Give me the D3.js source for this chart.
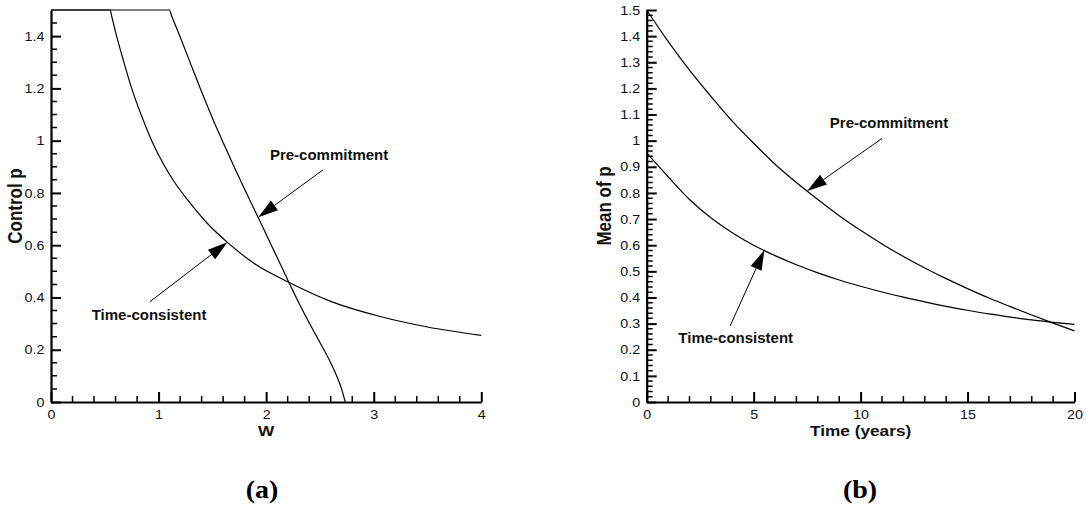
<!DOCTYPE html>
<html><head><meta charset="utf-8">
<script src="https://cdn.jsdelivr.net/npm/d3@7"></script>
<style>body{margin:0;background:#fff}svg{display:block}</style>
</head><body><svg id="c" width="1086" height="506"></svg>
<script>
// ---------- Panel (a): control p vs wealth W ----------
const aW_time = [0, 0.55, 0.565, 0.61, 0.68, 0.75, 0.84, 0.936, 1.05, 1.15, 1.27, 1.45, 1.648, 1.9, 2.205, 2.6, 3.06, 3.5, 4.0];
const aP_time = [1.5, 1.5, 1.475, 1.40, 1.297, 1.20, 1.097, 1.0, 0.907, 0.84, 0.773, 0.685, 0.608, 0.527, 0.459, 0.385, 0.327, 0.287, 0.255];
const aW_pre = [0, 1.1, 1.12, 1.2, 1.3, 1.4, 1.5, 1.6, 1.7, 1.8, 1.9, 2.0, 2.1, 2.2, 2.3, 2.4, 2.5, 2.6, 2.65, 2.7, 2.735];
const aP_pre = [1.5, 1.5, 1.479, 1.398, 1.292, 1.187, 1.087, 0.993, 0.902, 0.814, 0.728, 0.642, 0.555, 0.468, 0.383, 0.303, 0.228, 0.15, 0.105, 0.052, 0];
const aXTicks = [0, 1, 2, 3, 4];
const aXTickLabels = ["0", "1", "2", "3", "4"];
const aXMinorTicks = [0.2, 0.4, 0.6, 0.8, 1.2, 1.4, 1.6, 1.8, 2.2, 2.4, 2.6, 2.8, 3.2, 3.4, 3.6, 3.8];
const aYTicks = [0, 0.2, 0.4, 0.6, 0.8, 1.0, 1.2, 1.4];
const aYTickLabels = ["0", "0.2", "0.4", "0.6", "0.8", "1", "1.2", "1.4"];
const aYMinorTicks = [0.05, 0.1, 0.15, 0.25, 0.3, 0.35, 0.45, 0.5, 0.55, 0.65, 0.7, 0.75, 0.85, 0.9, 0.95,
  1.05, 1.1, 1.15, 1.25, 1.3, 1.35, 1.45];

// ---------- Panel (b): mean of p vs time ----------
const bYears = [0, 1, 2, 3, 4, 5, 6, 7, 8, 9, 10, 11, 12, 13, 14, 15, 16, 17, 18, 19, 20];
const bP_pre = [1.5, 1.38, 1.27, 1.17, 1.075, 0.99, 0.91, 0.84, 0.775, 0.713, 0.657, 0.605, 0.557, 0.513, 0.472, 0.434, 0.398, 0.365, 0.333, 0.302, 0.272];
const bP_time = [0.953, 0.862, 0.775, 0.705, 0.648, 0.60, 0.56, 0.525, 0.494, 0.467, 0.443, 0.421, 0.401, 0.383, 0.366, 0.351, 0.337, 0.325, 0.314, 0.305, 0.297];
const bXTicks = [0, 5, 10, 15, 20];
const bXTickLabels = ["0", "5", "10", "15", "20"];
const bXMinorTicks = [1, 2, 3, 4, 6, 7, 8, 9, 11, 12, 13, 14, 16, 17, 18, 19];
const bYTicks = [0, 0.1, 0.2, 0.3, 0.4, 0.5, 0.6, 0.7, 0.8, 0.9, 1.0, 1.1, 1.2, 1.3, 1.4, 1.5];
const bYTickLabels = ["0", "0.1", "0.2", "0.3", "0.4", "0.5", "0.6", "0.7", "0.8", "0.9", "1", "1.1", "1.2", "1.3", "1.4", "1.5"];
const bYMinorTicks = [];
bYTicks.slice(0, -1).forEach(t => [0.02, 0.04, 0.06, 0.08].forEach(o => bYMinorTicks.push(+(t + o).toFixed(2))));

const seriesNames = ["Pre-commitment", "Time-consistent"];

const svg = d3.select("#c");
const SANS = "'Liberation Sans', Arial, Helvetica, sans-serif";

function drawPanel(cfg) {
  const x = d3.scaleLinear().domain(cfg.xDomain).range(cfg.xRange);
  const y = d3.scaleLinear().domain(cfg.yDomain).range(cfg.yRange);
  const g = svg.append("g");
  const x0 = cfg.xRange[0], y0 = cfg.yRange[0];

  // minor ticks (inward) as one path each
  const xm = cfg.xMinor.map(v => `M${x(v)},${y0}V${y0 - 6}`).join("");
  const ym = cfg.yMinor.map(v => `M${x0},${y(v)}H${x0 + 6}`).join("");
  g.append("path").attr("d", xm + ym).attr("fill", "none")
    .attr("stroke", "#000").attr("stroke-width", 1.5);

  // major axes
  const xa = g.append("g").attr("transform", `translate(0,${y0})`)
    .call(d3.axisBottom(x).tickValues(cfg.xTicks).tickSize(-10).tickSizeOuter(0).tickPadding(5)
      .tickFormat((d, i) => cfg.xTickLabels[i]));
  const ya = g.append("g").attr("transform", `translate(${x0},0)`)
    .call(d3.axisLeft(y).tickValues(cfg.yTicks).tickSize(-10).tickSizeOuter(0).tickPadding(6)
      .tickFormat((d, i) => cfg.yTickLabels[i]));
  [xa, ya].forEach(a => {
    a.select(".domain").attr("stroke", "#000").attr("stroke-width", 2.2);
    a.selectAll(".tick line").attr("stroke", "#000").attr("stroke-width", 2);
    a.selectAll(".tick text").attr("font-family", SANS).attr("font-size", 13).attr("fill", "#111")
      .attr("transform", "scale(1.1,1)");
  });
  xa.selectAll(".tick text").attr("dy", "0.9em");

  // curves
  const line = d3.line().x(d => x(d[0])).y(d => y(d[1])).curve(d3.curveMonotoneX);
  cfg.series.forEach(s => {
    g.append("path").datum(d3.zip(s.xs, s.ys)).attr("d", line)
      .attr("fill", "none").attr("stroke", "#000").attr("stroke-width", 1.2);
  });

  // annotations
  cfg.notes.forEach(n => {
    const sx = x(n.from[0]), sy = y(n.from[1]);
    const tx = x(n.tip[0]), ty = y(n.tip[1]);
    const dx = tx - sx, dy = ty - sy, L = Math.hypot(dx, dy);
    const ux = dx / L, uy = dy / L;
    const hl = 20, hw = 6;
    const bx = tx - ux * hl, by = ty - uy * hl;
    g.append("line").attr("x1", sx).attr("y1", sy).attr("x2", bx).attr("y2", by)
      .attr("stroke", "#000").attr("stroke-width", 1);
    g.append("path")
      .attr("d", `M${tx},${ty}L${bx - uy * hw},${by + ux * hw}L${bx + uy * hw},${by - ux * hw}Z`)
      .attr("fill", "#000");
    g.append("text").attr("x", x(n.text[0])).attr("y", y(n.text[1]))
      .attr("font-family", SANS).attr("font-weight", "bold").attr("font-size", 15)
      .attr("fill", "#111").text(n.label);
  });

  // axis titles
  const xt = d3.mean(cfg.xRange);
  g.append("text").attr("transform", `translate(${xt},${cfg.xTitleY}) scale(1.15,1)`)
    .attr("text-anchor", "middle").attr("font-family", SANS).attr("font-weight", "bold")
    .attr("font-size", 15).attr("fill", "#111").text(cfg.xTitle);
  g.append("text").attr("transform", `translate(${cfg.yTitleX},${cfg.yTitleCY}) scale(1.15,1) rotate(-90)`)
    .attr("text-anchor", "middle").attr("font-family", SANS).attr("font-weight", "bold")
    .attr("font-size", 17).attr("fill", "#111").text(cfg.yTitle);

  // panel label
  g.append("text").attr("transform", `translate(${cfg.labelX},498) scale(1.12,1)`)
    .attr("text-anchor", "middle").attr("font-family", "'Liberation Serif', 'Times New Roman', serif")
    .attr("font-weight", "bold").attr("font-size", 25).attr("fill", "#000").text(cfg.panelLabel);
}

drawPanel({
  xDomain: [0, 4], yDomain: [0, 1.5], xRange: [51, 481.3], yRange: [402, 10],
  xTicks: aXTicks, xTickLabels: aXTickLabels, yTicks: aYTicks, yTickLabels: aYTickLabels,
  xMinor: aXMinorTicks, yMinor: aYMinorTicks,
  series: [{ xs: aW_pre, ys: aP_pre }, { xs: aW_time, ys: aP_time }],
  notes: [
    { label: seriesNames[0], text: [2.035, 0.926], from: [2.528, 0.888], tip: [1.927, 0.707] },
    { label: seriesNames[1], text: [0.378, 0.314], from: [0.92, 0.384], tip: [1.64, 0.611] }
  ],
  xTitle: "W", xTitleY: 436, yTitle: "Control p", yTitleX: 22, yTitleCY: 206,
  labelX: 262, panelLabel: "(a)"
});

drawPanel({
  xDomain: [0, 20], yDomain: [0, 1.5], xRange: [646.7, 1074.5], yRange: [402, 10],
  xTicks: bXTicks, xTickLabels: bXTickLabels, yTicks: bYTicks, yTickLabels: bYTickLabels,
  xMinor: bXMinorTicks, yMinor: bYMinorTicks,
  series: [{ xs: bYears, ys: bP_pre }, { xs: bYears, ys: bP_time }],
  notes: [
    { label: seriesNames[0], text: [8.56, 1.047], from: [11.01, 1.009], tip: [7.5, 0.807] },
    { label: seriesNames[1], text: [1.48, 0.226], from: [3.9, 0.291], tip: [5.5, 0.581] }
  ],
  xTitle: "Time (years)", xTitleY: 436, yTitle: "Mean of p", yTitleX: 611, yTitleCY: 206,
  labelX: 860, panelLabel: "(b)"
});
</script>
</body></html>
